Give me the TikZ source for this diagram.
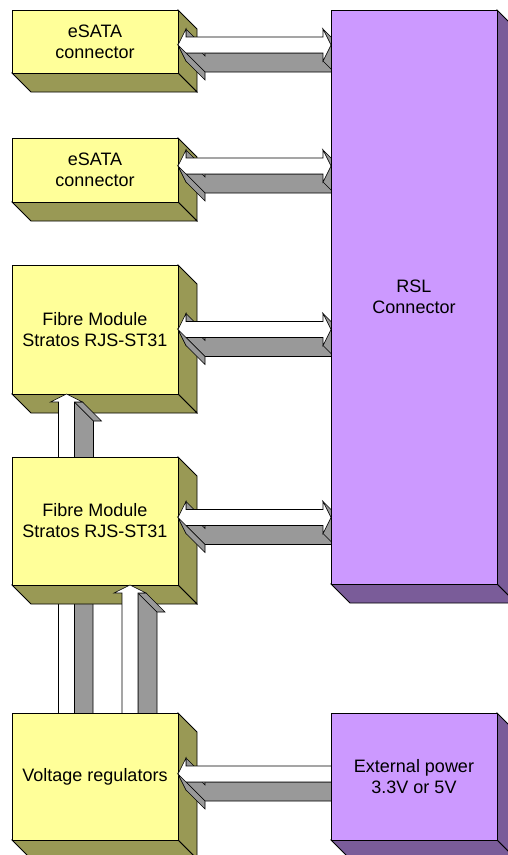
\documentclass[tikz,border=0pt]{standalone}
\usepackage{fontspec}
\setmainfont{Liberation Sans}
\definecolor{yfront}{HTML}{FFFF99}
\definecolor{yside}{HTML}{999955}
\definecolor{pfront}{HTML}{CC99FF}
\definecolor{pside}{HTML}{7A5C99}
\definecolor{agray}{HTML}{999999}
\tikzset{
  boxline/.style={draw=black,line width=0.8bp,line join=miter},
  arrline/.style={draw=black,line width=0.6bp,line join=miter},
  boxtext/.style={align=center,inner sep=0pt,font=\fontsize{18bp}{21bp}\selectfont}
}
% #1 name, #2 x1, #3 y1, #4 x2, #5 y2, #6 front, #7 side, #8 text
\newcommand\tdbox[8]{%
  \filldraw[boxline,fill=#7] (#4,#3) -- (#4+19,#3+19) -- (#4+19,#5+19) -- (#4,#5) -- cycle;
  \filldraw[boxline,fill=#7] (#2,#5) -- (#4,#5) -- (#4+19,#5+19) -- (#2+19,#5+19) -- cycle;
  \filldraw[boxline,fill=#6] (#2,#3) rectangle (#4,#5);
  \node[boxtext] (#1) at ({(#2+#4)/2},{(#3+#5)/2}) {#8};}
% double-headed horizontal 3D arrow: #1 left x, #2 right x, #3 centre y
\newcommand\hdarrow[3]{%
  \filldraw[arrline,fill=agray] (#1+8,#3+8) -- (#2-8,#3+8) -- (#2+11,#3+27) -- (#1+27,#3+27) -- cycle;
  \filldraw[arrline,fill=agray] (#1+8,#3-16) -- (#1+8,#3-8) -- (#1+27,#3+11) -- (#1+27,#3+3) -- cycle;
  \filldraw[arrline,fill=agray] (#2-8,#3-16) -- (#2,#3) -- (#2+19,#3+19) -- (#2+11,#3+3) -- cycle;
  \filldraw[arrline,fill=agray] (#2,#3) -- (#2-8,#3+16) -- (#2+11,#3+35) -- (#2+19,#3+19) -- cycle;
  \filldraw[arrline,fill=white] (#1,#3) -- (#1+8,#3-16) -- (#1+8,#3-8) -- (#2-8,#3-8) -- (#2-8,#3-16) -- (#2,#3) -- (#2-8,#3+16) -- (#2-8,#3+8) -- (#1+8,#3+8) -- (#1+8,#3+16) -- cycle;
  \filldraw[arrline,fill=agray] (#1,#3) -- (#1+8,#3+16) -- (#1+27,#3+35) -- (#1+27,#3+27) -- (#1+8,#3+8) -- cycle;}
% left-pointing horizontal 3D arrow
\newcommand\hlarrow[3]{%
  \filldraw[arrline,fill=agray] (#1+8,#3+8) -- (#2+5,#3+8) -- (#2+24,#3+27) -- (#1+27,#3+27) -- cycle;
  \filldraw[arrline,fill=agray] (#1+8,#3-16) -- (#1+8,#3-8) -- (#1+27,#3+11) -- (#1+27,#3+3) -- cycle;
  \filldraw[arrline,fill=white] (#1,#3) -- (#1+8,#3-16) -- (#1+8,#3-8) -- (#2+5,#3-8) -- (#2+5,#3+8) -- (#1+8,#3+8) -- (#1+8,#3+16) -- cycle;
  \filldraw[arrline,fill=agray] (#1,#3) -- (#1+8,#3+16) -- (#1+27,#3+35) -- (#1+27,#3+27) -- (#1+8,#3+8) -- cycle;}
% upward 3D arrow: #1 centre x, #2 tip y, #3 tail y
\newcommand\vuarrow[3]{%
  \filldraw[arrline,fill=agray] (#1+8,#2+8) -- (#1+27,#2+27) -- (#1+27,#3+19) -- (#1+8,#3) -- cycle;
  \filldraw[arrline,fill=agray] (#1+8,#2+8) -- (#1+16,#2+8) -- (#1+35,#2+27) -- (#1+27,#2+27) -- cycle;
  \filldraw[arrline,fill=white] (#1,#2) -- (#1+16,#2+8) -- (#1+8,#2+8) -- (#1+8,#3) -- (#1-8,#3) -- (#1-8,#2+8) -- (#1-16,#2+8) -- cycle;}
% vertical 3D shaft only
\newcommand\vshaftthreed[3]{%
  \filldraw[arrline,fill=agray] (#1+8,#2) -- (#1+27,#2+19) -- (#1+27,#3+19) -- (#1+8,#3) -- cycle;
  \filldraw[arrline,fill=white] (#1-8,#2) rectangle (#1+8,#3);}
\begin{document}
\begin{tikzpicture}[x=1bp,y=-1bp]
\clip (0,0) rectangle (508,855);
\fill[white] (0,0) rectangle (508,855);
\tdbox{esata1}{12}{10}{178}{73}{yfront}{yside}{eSATA\\connector}
\tdbox{esata2}{12}{138}{178}{202}{yfront}{yside}{eSATA\\connector}
\tdbox{fibre1}{12}{265}{178}{394}{yfront}{yside}{Fibre Module\\Stratos RJS-ST31}
\vuarrow{66.5}{394}{462}
\vshaftthreed{66}{580}{716}
\tdbox{fibre2}{12}{457}{178}{585}{yfront}{yside}{Fibre Module\\Stratos RJS-ST31}
\vuarrow{130}{585}{716}
\tdbox{volt}{12}{713}{178}{840}{yfront}{yside}{Voltage regulators}
\hdarrow{178}{331}{45}
\hdarrow{178}{331}{166}
\hdarrow{178}{331}{329.5}
\hdarrow{178}{331}{517.5}
\hlarrow{178}{331}{774}
\tdbox{rsl}{331}{10}{497}{584}{pfront}{pside}{RSL\\Connector}
\tdbox{power}{331}{713}{497}{840}{pfront}{pside}{External power\\3.3V or 5V}
\end{tikzpicture}
\end{document}
